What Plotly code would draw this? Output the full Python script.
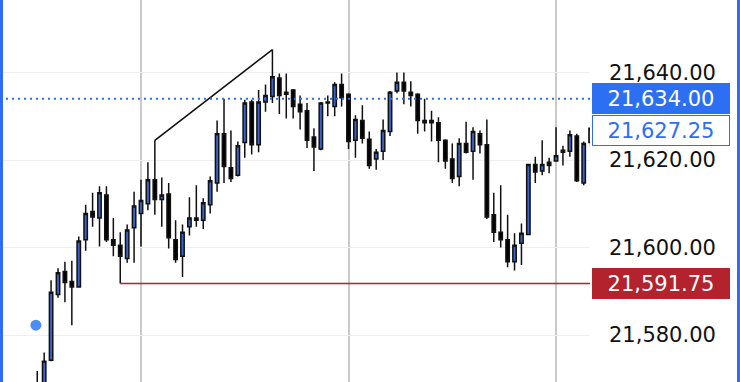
import plotly.graph_objects as go

# ---- data (price values) ----
idx = list(range(81))
opens = [21565, 21568, 21574.25, 21589.25, 21594.5, 21592.25, 21591, 21601.75, 21608.25, 21606.75,
         21612, 21601.75, 21600.5, 21597.5, 21604.5, 21607.75, 21610, 21615.5, 21611, 21612.25,
         21601.75, 21598, 21604.75, 21606.75, 21606.25, 21609.75, 21614.75, 21626, 21618.25, 21616.5,
         21624, 21633.25, 21623.5, 21633.25, 21634.5, 21638.75, 21635.5, 21636, 21632.75, 21631.25,
         21625.25, 21622.5, 21633.25, 21632.25, 21637.25, 21635, 21624.5, 21629, 21624.75, 21620.25,
         21622, 21626.5, 21635.75, 21637.75, 21635.5, 21635, 21629, 21629, 21628.5, 21624.5,
         21620.25, 21616.25, 21623.75, 21622, 21626, 21623.5, 21607.5, 21603.5, 21601.75, 21596.75,
         21601, 21603, 21619, 21617.5, 21619.5, 21619.75, 21622.25, 21622, 21625.5, 21614.75,
         21624]
highs = [21571.75, 21576, 21592.5, 21595.25, 21596.75, 21597, 21602.5, 21609.75, 21612.5, 21614,
         21614, 21606.75, 21603.5, 21605.25, 21612.75, 21615.5, 21619.5, 21624.5, 21616, 21614.75,
         21606.25, 21605.25, 21611.5, 21614.25, 21611.25, 21616.25, 21629, 21634, 21626.75, 21624.25,
         21633.75, 21633.75, 21636, 21637.25, 21645.25, 21639.75, 21639.75, 21636.25, 21634.75, 21633,
         21627.25, 21633.25, 21634.75, 21637.75, 21639.75, 21635.25, 21630.25, 21632.5, 21626.5, 21622.5,
         21629.25, 21635.75, 21640, 21640, 21638, 21635.25, 21634, 21631.25, 21629.75, 21624.75,
         21623.75, 21625, 21628.75, 21627.5, 21626.75, 21629.25, 21612.5, 21614.25, 21607.5, 21603.25,
         21605.5, 21619, 21620.75, 21624.5, 21620.5, 21627.5, 21623.25, 21626.75, 21626, 21624.25,
         21627.25]
lows = [21563, 21567, 21574, 21588.5, 21587.5, 21582.25, 21591, 21599.25, 21604.75, 21600.25,
        21601.25, 21598, 21591.75, 21596.5, 21596.5, 21600.25, 21608.5, 21607.5, 21604.75, 21599.75,
        21596.5, 21593.25, 21602.75, 21604.75, 21604.25, 21607.75, 21612.75, 21614.75, 21615, 21616.25,
        21620.5, 21621.25, 21621.75, 21631, 21633, 21630.5, 21629.5, 21629.5, 21627, 21622.75,
        21617.5, 21622.25, 21630, 21630, 21632.25, 21622.5, 21620.5, 21623.75, 21618, 21617.75,
        21620, 21625.5, 21635.25, 21632.75, 21632.25, 21626, 21626.5, 21624.25, 21619.5, 21618,
        21614.75, 21614, 21621.5, 21615.5, 21621.5, 21606.5, 21601.25, 21600, 21595.5, 21594.75,
        21596, 21603, 21614.75, 21616.5, 21617, 21619.75, 21618.75, 21620.75, 21615, 21614.25,
        21623]
closes = [21568.5, 21574, 21589.75, 21594.25, 21592, 21591, 21601.5, 21607.75, 21607, 21612.5,
          21601.75, 21600.5, 21598, 21604, 21609.5, 21610.75, 21615.5, 21611, 21612, 21602.25,
          21597.25, 21603.5, 21606.75, 21606.25, 21610.25, 21615.25, 21626, 21618.5, 21615.75, 21623.25,
          21633, 21623.5, 21633.25, 21634.75, 21639, 21634.75, 21635, 21632.25, 21631, 21624.5,
          21623, 21633, 21633, 21637.25, 21634.25, 21624.25, 21629.25, 21625, 21618.75, 21621.75,
          21626.75, 21635.5, 21637.75, 21635.75, 21634.75, 21629, 21628.5, 21628.5, 21624.5, 21619.75,
          21615.75, 21623.75, 21621.75, 21626.5, 21623.5, 21607, 21603.5, 21601.75, 21596.75, 21600.5,
          21603.25, 21619, 21617.25, 21619, 21618.75, 21621, 21621.75, 21625.75, 21615.25, 21623.75,
          21627.25]

y_ticks = [21580, 21600, 21620, 21640]
last_price = 21634.00
bid_price = 21627.25
support_idx = 12          # candle whose low defines the red level
trend_from, trend_to = 17, 34
dot_x, dot_y = -0.2, 21582.25

support_price = lows[support_idx]

BLUE_C = "#3a63c9"
ACCENT = "#2d6ff2"
RED = "#b3232e"

fig = go.Figure()
fig.add_trace(go.Candlestick(
    x=idx, open=opens, high=highs, low=lows, close=closes,
    increasing=dict(line=dict(color="#111111", width=1.5), fillcolor=BLUE_C),
    decreasing=dict(line=dict(color="#111111", width=1.5), fillcolor="#000000"),
    whiskerwidth=0, showlegend=False, hoverinfo="skip",
))
fig.add_trace(go.Scatter(
    x=[trend_from, trend_to], y=[highs[trend_from], highs[trend_to]],
    mode="lines", line=dict(color="#111111", width=1.6), showlegend=False, hoverinfo="skip",
))
fig.add_trace(go.Scatter(
    x=[dot_x], y=[dot_y], mode="markers",
    marker=dict(size=11, color="#4a8df8"), showlegend=False, hoverinfo="skip",
))

# level lines
fig.add_shape(type="line", xref="paper", yref="y", x0=0, x1=1.01, y0=last_price, y1=last_price,
              line=dict(color=ACCENT, width=2, dash="2px,4px"), layer="above")
fig.add_shape(type="line", xref="x", yref="y", x0=support_idx, x1=80.5, y0=support_price, y1=support_price,
              line=dict(color=RED, width=1.5), layer="above")

# edge frame bars
fig.add_shape(type="rect", xref="paper", yref="paper", x0=0, x1=3 / 590, y0=0, y1=1,
              line=dict(width=0), fillcolor="#2f6cf3", layer="above")
fig.add_shape(type="rect", xref="paper", yref="paper", x0=737 / 590, x1=740 / 590, y0=0, y1=1,
              line=dict(width=0), fillcolor="#2f6cf3", layer="above")

FONT = "DejaVu Sans"
def label(price, text, bg, fg, border, yshift=0):
    fig.add_annotation(
        xref="paper", yref="y", x=1, y=price, xanchor="left", yanchor="middle",
        xshift=2, yshift=yshift, text=text, showarrow=False,
        font=dict(family=FONT, size=21, color=fg),
        bgcolor=bg, bordercolor=border, borderwidth=1, borderpad=2,
        width=132, height=25, align="center",
    )

label(last_price, f"{last_price:,.2f}", ACCENT, "white", ACCENT)
label(bid_price, f"{bid_price:,.2f}", "white", ACCENT, ACCENT, yshift=-2)
label(support_price, f"{support_price:,.2f}", RED, "white", RED)

fig.update_layout(
    width=740, height=382,
    margin=dict(l=0, r=150, t=0, b=0),
    paper_bgcolor="white", plot_bgcolor="white",
    xaxis=dict(range=[-5.385, 79.91], rangeslider=dict(visible=False),
               showticklabels=False, ticks="", tick0=15, dtick=30,
               showgrid=True, gridcolor="#c9c9c9", gridwidth=1.5,
               zeroline=False, showline=False, fixedrange=True),
    yaxis=dict(range=[21569.26, 21656.57], side="right",
               tickvals=y_ticks, tickformat=",.2f", ticks="",
               ticklabelstandoff=18,
               tickfont=dict(family=FONT, size=21, color="#111111"),
               showgrid=True, gridcolor="#efefef", gridwidth=1,
               zeroline=False, showline=False, fixedrange=True),
    showlegend=False,
)

fig.write_html("out.html", config={"displayModeBar": False})
